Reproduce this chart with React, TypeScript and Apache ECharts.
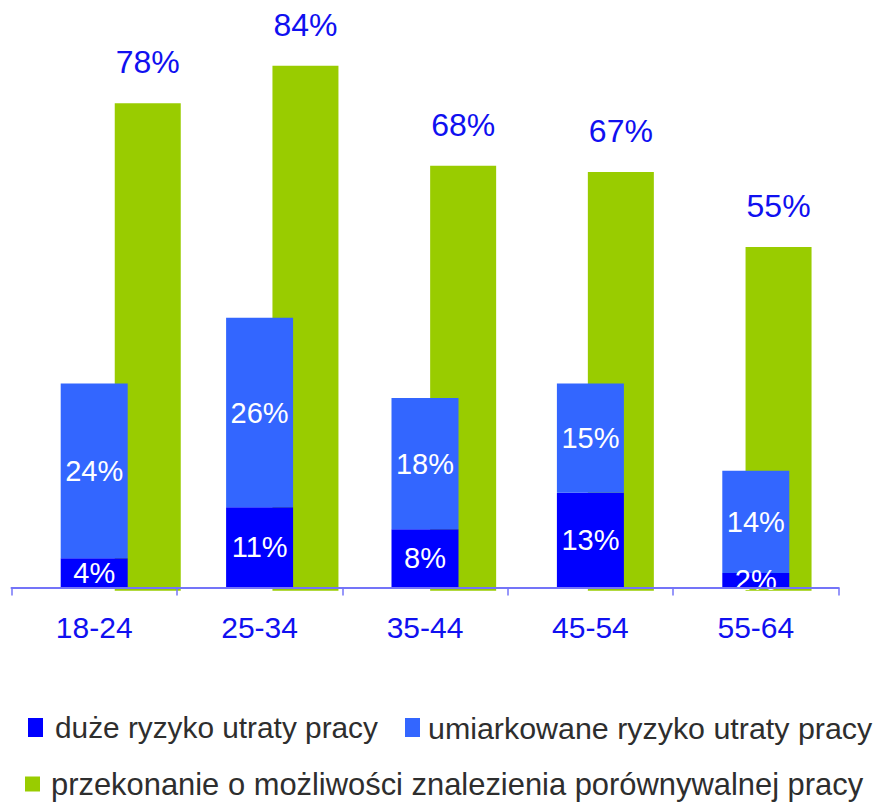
import React, { useEffect, useRef } from "react";
import * as echarts from "echarts";

const categories = ["18-24", "25-34", "35-44", "45-54", "55-64"];
const highRisk = [4, 11, 8, 13, 2];
const moderateRisk = [24, 26, 18, 15, 14];
const confidence = [78, 84, 68, 67, 55];

const seriesNames = [
  "duże ryzyko utraty pracy",
  "umiarkowane ryzyko utraty pracy",
  "przekonanie o możliwości znalezienia porównywalnej pracy",
];

const FONT = "'Liberation Sans', Arial, sans-serif";
const LABEL_BLUE = "#1010F0";

export default function App() {
  const ref = useRef<HTMLDivElement>(null);

  useEffect(() => {
    if (!ref.current) return;
    const chart = echarts.init(ref.current, undefined, { renderer: "svg" });
    const legendText = (pad: number, size: number) => ({
      fontSize: size,
      lineHeight: 30,
      color: "#2e2e2e",
      fontFamily: FONT,
      padding: [0, 0, 0, pad],
    });
    chart.setOption({
      animation: false,
      backgroundColor: "#ffffff",
      textStyle: { fontFamily: FONT },
      grid: [
        { left: 11.5, right: 38.5, top: 4.3, bottom: 215.5 },
        { left: 68.9, right: 19.6, top: 28.2, bottom: 212.3 },
      ],
      xAxis: [
        {
          type: "category",
          gridIndex: 0,
          data: categories,
          z: 5,
          axisLine: { lineStyle: { color: "#7474F8", width: 2 } },
          axisTick: { show: true, length: 8, interval: 0, lineStyle: { color: "#7474F8", width: 1.5 } },
          axisLabel: { color: LABEL_BLUE, fontSize: 30, margin: 25, fontFamily: FONT, interval: 0 },
        },
        {
          type: "category",
          gridIndex: 1,
          data: categories,
          show: false,
        },
      ],
      yAxis: [
        { type: "value", gridIndex: 0, min: 0, max: 80, show: false, splitLine: { show: false } },
        { type: "value", gridIndex: 1, min: 0, max: 90, show: false, splitLine: { show: false } },
      ],
      legend: [
        {
          data: [seriesNames[0]],
          left: 28,
          top: 712.5,
          padding: 0,
          icon: "rect",
          itemWidth: 15,
          itemHeight: 19,
          selectedMode: false,
          textStyle: legendText(7, 29.8),
        },
        {
          data: [seriesNames[1]],
          left: 405,
          top: 712.5,
          padding: 0,
          icon: "rect",
          itemWidth: 15,
          itemHeight: 19,
          selectedMode: false,
          textStyle: legendText(3, 30.4),
        },
        {
          data: [seriesNames[2]],
          left: 25,
          top: 768.5,
          padding: 0,
          icon: "rect",
          itemWidth: 15,
          itemHeight: 15,
          selectedMode: false,
          textStyle: legendText(6, 30.9),
        },
      ],
      series: [
        {
          name: seriesNames[2],
          type: "bar",
          xAxisIndex: 1,
          yAxisIndex: 1,
          data: confidence,
          barWidth: 66,
          z: 1,
          itemStyle: { color: "#99CC00" },
          label: {
            show: true,
            position: "top",
            distance: 25,
            formatter: "{c}%",
            color: LABEL_BLUE,
            fontSize: 32,
            fontFamily: FONT,
          },
        },
        {
          name: seriesNames[0],
          type: "bar",
          xAxisIndex: 0,
          yAxisIndex: 0,
          stack: "risk",
          data: highRisk,
          barWidth: 67,
          z: 2,
          itemStyle: { color: "#0000FF" },
          label: {
            show: true,
            position: "inside",
            formatter: "{c}%",
            color: "#ffffff",
            fontSize: 29,
            fontFamily: FONT,
          },
        },
        {
          name: seriesNames[1],
          type: "bar",
          xAxisIndex: 0,
          yAxisIndex: 0,
          stack: "risk",
          data: moderateRisk,
          barWidth: 67,
          z: 2,
          itemStyle: { color: "#3366FF" },
          label: {
            show: true,
            position: "inside",
            formatter: "{c}%",
            color: "#ffffff",
            fontSize: 29,
            fontFamily: FONT,
          },
        },
      ],
    });
    return () => chart.dispose();
  }, []);

  return (
    <div
      ref={ref}
      style={{ position: "absolute", left: 0, top: 0, width: 877, height: 803 }}
    />
  );
}
